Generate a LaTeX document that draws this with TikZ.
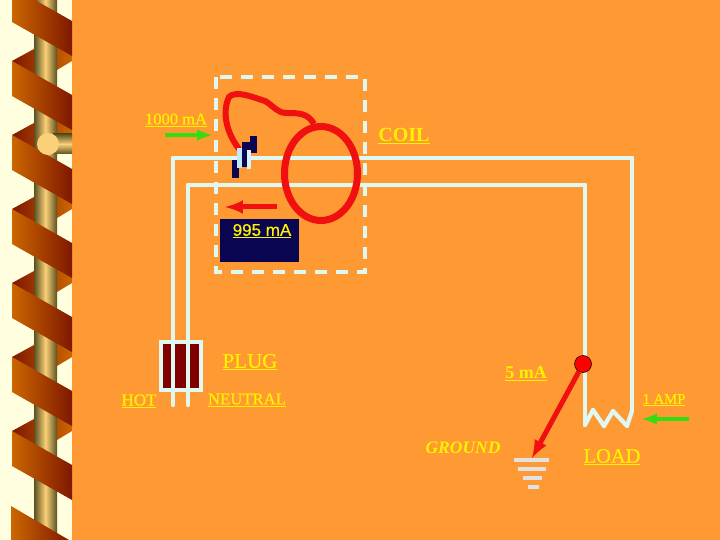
\documentclass[tikz,border=0pt]{standalone}
\usepackage{fontspec}
\setmainfont{Liberation Serif}
\setsansfont{Liberation Sans}
\newfontfamily\heavyrm[FakeBold=0.6]{Liberation Serif}
\newfontfamily\heavysf[FakeBold=0.5]{Liberation Sans}
\usepackage{pgf,tikz}
\usepackage{tkz-euclide}
\usepackage{xcolor}
\usetikzlibrary{arrows, calc, shapes.geometric}
\definecolor{slide}{HTML}{FF9933}
\definecolor{cream}{HTML}{FFFFE0}
\definecolor{wirec}{HTML}{E0F8F2}
\definecolor{coilred}{HTML}{F01010}
\definecolor{navyc}{HTML}{0A0550}
\definecolor{ribbona}{HTML}{CC6600}
\definecolor{ribbonb}{HTML}{7F1800}
\definecolor{poleedge}{HTML}{5A5020}
\definecolor{polelight}{HTML}{FBD078}
\definecolor{arrowg}{HTML}{33DD11}
\definecolor{groundc}{HTML}{E2E2E2}
\tikzset{
	wire/.style={line width=4.2pt,color=wirec,line cap=round},
	lbl/.style={text=yellow,inner sep=0pt},
	rail/.style={-latex,line width=4pt},
}
\begin{document}
\begin{tikzpicture}[x=1pt,y=-1pt]
	    \useasboundingbox (0,0) rectangle (720,540);
	    \fill[cream] (0,0) rectangle (72,540);
	    \fill[slide] (72,0) rectangle (720,540);

	    % spiral at the left
	    \foreach \y in {-13,61,135,209,283,357,431}
	    	\shade[left color=ribbonb,right color=ribbona] (12,\y+0) -- (34,\y-12) -- (72,\y-34) -- (72,\y+0) -- (57,\y+9) -- (34,\y+20) -- cycle;
	    \shade[left color=poleedge,right color=poleedge,middle color=polelight] (34,0) rectangle (57,540);
	    \foreach \y in {-13,61,135,209,283,357,431}
	    	\shade[left color=ribbona,right color=ribbonb] (12,\y+0) -- (72,\y+34) -- (72,\y+69) -- (12,\y+35) -- cycle;
	    \shade[left color=ribbona,right color=ribbonb] (11,506) -- (69,540) -- (11,540) -- cycle;
	    \shade[top color=poleedge,bottom color=poleedge,middle color=polelight] (53,134) rectangle (72,154);
	    \fill[polelight] (48,144) circle (11);

	    \fill[navyc] (220,219) rectangle (299,262);

	    \tkzDefPoint(173,405){h_1}
	    \tkzDefPoint(173,158){h_2}
	    \tkzDefPoint(238,158){h_3}
	    \tkzDefPoint(250,158){h_4}
	    \tkzDefPoint(632,158){h_5}
	    \tkzDefPoint(632,411){h_6}
	    \tkzDefPoint(188,405){n_1}
	    \tkzDefPoint(188,185){n_2}
	    \tkzDefPoint(585,185){n_3}
	    \tkzDefPoint(585,425){n_4}
	    \tkzDefPoint(593,410){z_1}
	    \tkzDefPoint(604,426){z_2}
	    \tkzDefPoint(613,411){z_3}
	    \tkzDefPoint(627,426){z_4}

	    \tkzDrawSegments[wire](h_1,h_2 h_2,h_3 h_4,h_5 h_5,h_6)
	    \tkzDrawSegments[wire](n_1,n_2 n_2,n_3 n_3,n_4)
	    \tkzDrawSegments[wire](n_4,z_1 z_1,z_2 z_2,z_3 z_3,z_4 z_4,h_6)

	    % breaker box
	    \draw[wirec,line width=4.4pt,dash pattern=on 12pt off 9pt] (216,77) rectangle (365,272);

	    % coil
	    \node[draw=coilred,line width=7pt,ellipse,minimum width=73pt,minimum height=94pt,inner sep=0pt] (coil) at (321,173.5) {};
	    \coordinate (trip) at (239,149);
	    \draw[coilred,line width=6pt] (trip) .. controls (226,132) and (222,112) .. (229,97) .. controls (236,90) and (252,97) .. (265,101) .. controls (275,107) and (277,113) .. (287,113) .. controls (298,113) and (308,113) .. (314,124);

	    % switch
	    \fill[navyc] (232,160) rectangle (239,178);
	    \fill[navyc] (242,142) rectangle (251,167);
	    \fill[navyc] (250,136) rectangle (257,153);
	    \fill[cyan!25!white] (237,148) rectangle (242,168);
	    \fill[cyan!15!white] (247,150) rectangle (251,169);

	    % plug
	    \draw[wirec,line width=4pt,fill=red!50!black] (161,342) rectangle (201,390);
	    \coordinate (p_1) at (173,342);
	    \coordinate (p_2) at (173,390);
	    \coordinate (p_3) at (188,342);
	    \coordinate (p_4) at (188,390);
	    \draw[wirec,line width=4.2pt] (p_1) -- (p_2);
	    \draw[wirec,line width=4.2pt] (p_3) -- (p_4);

	    % arrows
	    \coordinate (ga) at (165,135);
	    \coordinate (gb) at (212,135);
	    \coordinate (ra) at (277,207);
	    \coordinate (rb) at (225,207);
	    \coordinate (la) at (689,419);
	    \coordinate (lb) at (642,419);
	    \draw[rail,arrowg] (ga) -- (gb);
	    \draw[rail,coilred,line width=5pt] (ra) -- (rb);
	    \draw[rail,arrowg] (la) -- (lb);

	    % ground
	    \foreach \y/\a/\b in {460/514/549,469/518/546,478/523/542,487/528/539}
	    	\draw[groundc,line width=4pt] (\a,\y) -- (\b,\y);
	    \node[circle,draw=black,line width=0.5pt,fill=red,minimum size=17pt,inner sep=0pt] (dot) at (583,364) {};
	    \coordinate (gnd) at (532,458);
	    \draw[-latex,coilred,line width=5pt] (dot) -- (gnd);

	    \node[lbl,font=\heavyrm\fontsize{16.5}{18}\selectfont] (cur_in) at (176,120) {\underline{1000 mA}};
	    \node[lbl,font=\fontsize{20}{22}\selectfont\bfseries] (coil_l) at (404,136) {\underline{COIL}};
	    \node[lbl,font=\heavysf\fontsize{17}{19}\selectfont] (cur_ret) at (262,231) {\underline{995 mA}};
	    \node[lbl,font=\heavyrm\fontsize{21}{23}\selectfont] (plug_l) at (250,362) {\underline{PLUG}};
	    \node[lbl,font=\heavyrm\fontsize{16.7}{18}\selectfont] (neu_l) at (247,400) {\underline{NEUTRAL}};
	    \node[lbl,font=\heavyrm\fontsize{17}{19}\selectfont] (hot_l) at (139,401) {\underline{HOT}};
	    \node[lbl,font=\fontsize{18}{20}\selectfont\bfseries] (leak_l) at (526,374) {\underline{5 mA}};
	    \node[lbl,font=\heavyrm\fontsize{14.7}{16}\selectfont] (amp_l) at (664,400) {\underline{1 AMP}};
	    \node[lbl,font=\fontsize{17.5}{19}\selectfont\bfseries\itshape] (gnd_l) at (463,448) {GROUND};
	    \node[lbl,font=\heavyrm\fontsize{20.5}{22}\selectfont] (load_l) at (612,457) {\underline{LOAD}};
\end{tikzpicture}
\end{document}
